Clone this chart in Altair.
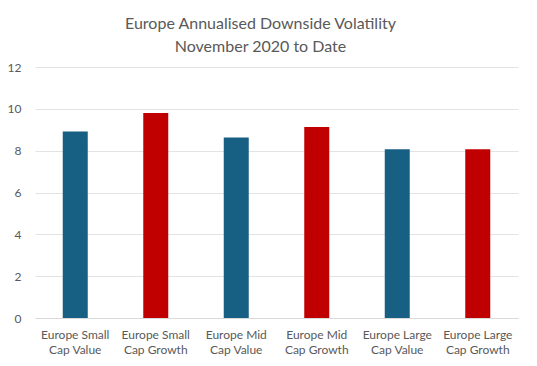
import altair as alt
import pandas as pd

categories = ["Europe Small|Cap Value", "Europe Small|Cap Growth", "Europe Mid|Cap Value",
              "Europe Mid|Cap Growth", "Europe Large|Cap Value", "Europe Large|Cap Growth"]
values = [8.92, 9.8, 8.63, 9.13, 8.07, 8.07]
styles = ["Value", "Growth", "Value", "Growth", "Value", "Growth"]

df = pd.DataFrame({"cat": categories, "val": values, "style": styles})

font = "Lato"

chart = alt.Chart(df).mark_bar(size=25).encode(
    x=alt.X("cat:N", sort=categories, title=None,
            scale=alt.Scale(paddingInner=0.0, paddingOuter=0.0),
            axis=alt.Axis(labelAngle=0, labelExpr="split(datum.label, '|')",
                          labelFont=font, labelFontSize=12, labelColor="#595959",
                          labelPadding=11, labelLineHeight=15, ticks=False,
                          domainColor="#d9d9d9", grid=False)),
    y=alt.Y("val:Q", title=None, scale=alt.Scale(domain=[0, 12]),
            axis=alt.Axis(values=[0, 2, 4, 6, 8, 10, 12], labelFont=font, labelFontSize=12,
                          labelColor="#595959", labelPadding=14, ticks=False, domain=False,
                          gridColor="#e3e3e3")),
    color=alt.Color("style:N", scale=alt.Scale(domain=["Value", "Growth"],
                                               range=["#175F83", "#C00000"]), legend=None),
).properties(
    width=483, height=251,
    title=alt.TitleParams(["Europe Annualised Downside Volatility", "November 2020 to Date"],
                          font=font, fontSize=16, fontWeight="normal", color="#595959",
                          lineHeight=23, anchor="middle", dx=-16, offset=6),
    autosize=alt.AutoSizeParams(type="none"),
    padding={"left": 27, "top": 59, "right": 10, "bottom": 40},
).configure_view(stroke=None)

chart.save("out.html", embed_options={"renderer": "svg", "actions": False})
